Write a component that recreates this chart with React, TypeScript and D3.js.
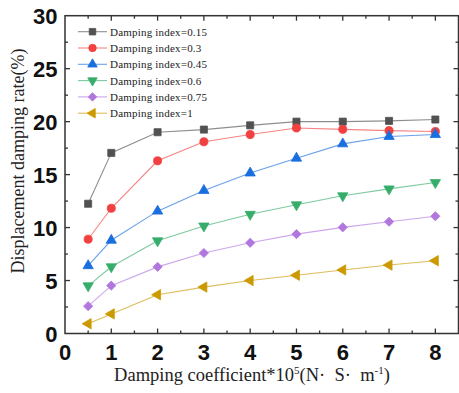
import React, { useEffect, useRef } from "react";
import * as d3 from "d3";

const coefficients = [0.5, 1, 2, 3, 4, 5, 6, 7, 8];
const seriesNames = [
  "Damping index=0.15",
  "Damping index=0.3",
  "Damping index=0.45",
  "Damping index=0.6",
  "Damping index=0.75",
  "Damping index=1",
];
const index015 = [12.25, 17.05, 19.0, 19.25, 19.65, 20.0, 20.0, 20.07, 20.2];
const index03 = [8.9, 11.82, 16.3, 18.1, 18.78, 19.4, 19.27, 19.15, 19.07];
const index045 = [6.4, 8.8, 11.55, 13.5, 15.15, 16.55, 17.9, 18.6, 18.78];
const index06 = [4.5, 6.3, 8.75, 10.15, 11.25, 12.15, 13.0, 13.65, 14.25];
const index075 = [2.58, 4.52, 6.29, 7.6, 8.56, 9.38, 10.02, 10.55, 11.07];
const index1 = [0.92, 1.85, 3.66, 4.38, 5.0, 5.5, 6.0, 6.46, 6.87];
const seriesValues = [index015, index03, index045, index06, index075, index1];
const seriesColors = ["#515151", "#F14040", "#1A6FDF", "#37AD6B", "#B177DE", "#CC9900"];
const xTicks = [0, 1, 2, 3, 4, 5, 6, 7, 8];
const yTicks = [0, 5, 10, 15, 20, 25, 30];

type Marker = { type: d3.SymbolType; size: number; rotate: number };
const markers: Marker[] = [
  { type: d3.symbolSquare, size: 50, rotate: 0 },
  { type: d3.symbolCircle, size: 52, rotate: 0 },
  { type: d3.symbolTriangle, size: 46, rotate: 0 },
  { type: d3.symbolTriangle, size: 46, rotate: 180 },
  { type: d3.symbolSquare, size: 42, rotate: 45 },
  { type: d3.symbolTriangle, size: 46, rotate: -90 },
];

const W = 459;
const H = 393;
const M = { left: 65, right: 458.5, top: 15.7, bottom: 333.5 };

export default function App() {
  const ref = useRef<SVGSVGElement>(null);

  useEffect(() => {
    const svg = d3.select(ref.current);
    svg.selectAll("*").remove();

    const x = d3.scaleLinear().domain([0, 8.5]).range([M.left, M.right]);
    const y = d3.scaleLinear().domain([0, 30]).range([M.bottom, M.top]);
    const axisColor = "#333";

    // frame
    svg
      .append("rect")
      .attr("x", M.left)
      .attr("y", M.top)
      .attr("width", M.right - M.left)
      .attr("height", M.bottom - M.top)
      .attr("fill", "none")
      .attr("stroke", axisColor)
      .attr("stroke-width", 1.5);

    // inward ticks on all four sides
    const ticks = svg.append("g").attr("stroke", axisColor).attr("stroke-width", 1.3);
    const xMinor = d3.range(0.5, 8.5, 1);
    const yMinor = d3.range(2.5, 30, 5);
    const xAll = [
      ...xTicks.filter((v) => v > 0).map((v) => ({ v, len: 5 })),
      ...xMinor.map((v) => ({ v, len: 3 })),
    ];
    const yAll = [
      ...yTicks.filter((v) => v > 0 && v < 30).map((v) => ({ v, len: 5 })),
      ...yMinor.map((v) => ({ v, len: 3 })),
    ];
    xAll.forEach(({ v, len }) => {
      ticks.append("line").attr("x1", x(v)).attr("x2", x(v)).attr("y1", M.bottom).attr("y2", M.bottom - len);
      ticks.append("line").attr("x1", x(v)).attr("x2", x(v)).attr("y1", M.top).attr("y2", M.top + len);
    });
    yAll.forEach(({ v, len }) => {
      ticks.append("line").attr("x1", M.left).attr("x2", M.left + len).attr("y1", y(v)).attr("y2", y(v));
      ticks.append("line").attr("x1", M.right).attr("x2", M.right - len).attr("y1", y(v)).attr("y2", y(v));
    });

    // tick labels
    const tickFont = "'Liberation Sans', Arial, sans-serif";
    svg
      .append("g")
      .selectAll("text")
      .data(xTicks)
      .join("text")
      .attr("x", (d) => x(d))
      .attr("y", 360)
      .attr("text-anchor", "middle")
      .attr("font-family", tickFont)
      .attr("font-weight", "bold")
      .attr("font-size", 22)
      .attr("fill", "#111")
      .text((d) => d);
    svg
      .append("g")
      .selectAll("text")
      .data(yTicks)
      .join("text")
      .attr("x", 57.5)
      .attr("y", (d) => y(d) + 8)
      .attr("text-anchor", "end")
      .attr("font-family", tickFont)
      .attr("font-weight", "bold")
      .attr("font-size", 22)
      .attr("fill", "#111")
      .text((d) => d);

    // axis titles
    const serif = "'Liberation Serif', 'Times New Roman', serif";
    svg
      .append("text")
      .attr("transform", "translate(24,161) rotate(-90)")
      .attr("text-anchor", "middle")
      .attr("font-family", serif)
      .attr("font-size", 18)
      .attr("fill", "#222")
      .text("Displacement damping rate(%)");

    const xt = svg
      .append("text")
      .attr("x", 252)
      .attr("y", 381)
      .attr("text-anchor", "middle")
      .attr("font-family", serif)
      .attr("font-size", 18.5)
      .attr("fill", "#222")
      .style("white-space", "pre");
    xt.append("tspan").text("Damping coefficient*10");
    xt.append("tspan").attr("dy", -7).attr("font-size", 11).text("5");
    xt.append("tspan").attr("dy", 7).text("(N·  S·  m");
    xt.append("tspan").attr("dy", -7).attr("font-size", 11).text("-1");
    xt.append("tspan").attr("dy", 7).text(")");

    const line = d3
      .line<number>()
      .x((_, i) => x(coefficients[i]))
      .y((d) => y(d));

    const drawMarker = (
      g: d3.Selection<SVGGElement, unknown, null, undefined>,
      k: number,
      cx: number,
      cy: number,
      scale = 1
    ) => {
      const m = markers[k];
      g.append("path")
        .attr("d", d3.symbol().type(m.type).size(m.size * scale)()!)
        .attr("transform", `translate(${cx},${cy}) rotate(${m.rotate})`)
        .attr("fill", seriesColors[k])
        .attr("stroke", seriesColors[k])
        .attr("stroke-width", 0.8);
    };

    seriesValues.forEach((vals, k) => {
      const g = svg.append("g");
      g.append("path")
        .attr("d", line(vals)!)
        .attr("fill", "none")
        .attr("stroke", seriesColors[k])
        .attr("stroke-opacity", 0.65)
        .attr("stroke-width", 1.1);
      vals.forEach((v, i) => drawMarker(g as any, k, x(coefficients[i]), y(v)));
    });

    // legend
    const lg = svg.append("g");
    seriesNames.forEach((name, k) => {
      const ry = 31.7 + k * 16.3;
      lg.append("line")
        .attr("x1", 78)
        .attr("x2", 107)
        .attr("y1", ry)
        .attr("y2", ry)
        .attr("stroke", seriesColors[k])
        .attr("stroke-opacity", 0.65)
        .attr("stroke-width", 1.1);
      drawMarker(lg as any, k, 92.5, ry, 0.85);
      lg.append("text")
        .attr("x", 110)
        .attr("y", ry + 4)
        .attr("font-family", serif)
        .attr("font-size", 11)
        .attr("letter-spacing", 0.2)
        .attr("fill", "#222")
        .text(name);
    });
  }, []);

  return (
    <svg
      ref={ref}
      width={W}
      height={H}
      style={{ position: "absolute", left: 0, top: 0, background: "#fff" }}
    />
  );
}
